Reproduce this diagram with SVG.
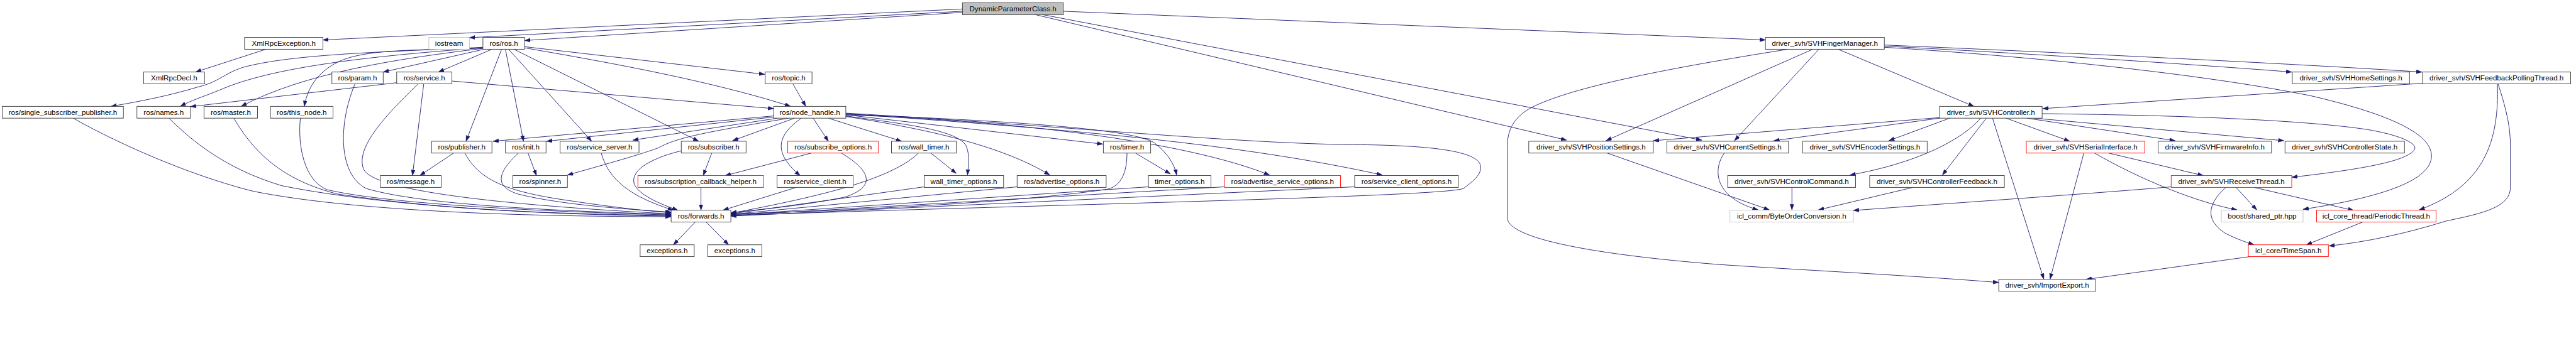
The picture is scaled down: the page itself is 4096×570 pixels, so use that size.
<svg xmlns="http://www.w3.org/2000/svg" width="4096" height="570" viewBox="0 0 4096 570">
<style>
.node rect{fill:#ffffff;stroke:#333333;stroke-width:1}
.node.red rect{stroke:#ff0000}
.node.grey rect{stroke:#bfbfbf}
.node.root rect{fill:#bfbfbf}
.node text{font-family:"Liberation Sans",Arial,Helvetica,sans-serif;font-size:13px;fill:#000;text-anchor:middle}
#edges path{fill:none;stroke:#191970;stroke-width:1;marker-end:url(#arr)}
</style>
<defs>
<marker id="arr" markerUnits="userSpaceOnUse" markerWidth="11" markerHeight="8" refX="10" refY="3.5" orient="auto">
<path d="M0,0 L10,3.5 L0,7 z" fill="#191970" stroke="#191970" stroke-width="0.5"/>
</marker>
</defs>
<rect width="4096" height="570" fill="#ffffff"/>
<g transform="scale(0.896)">
<g id="edges">
<!-- DynamicParameterClass.h -->
<path d="M1708,16 L573,71"/>
<path d="M1708,20 L833,67"/>
<path d="M1708,22 L931,72"/>
<path d="M1887,20 L3133,71"/>
<path d="M1837,26 L2780,249"/>
<path d="M1850,26 L3020,249"/>
<!-- XmlRpcException -->
<path d="M472,87.5 L347,128"/>
<!-- ros/ros.h -->
<path d="M857,84 C700,92 520,95 430,120 C395,132 390,145 350,155 C300,170 250,180 197,189"/>
<path d="M857,85 C650,100 480,120 390,160 C360,172 340,178 320,189"/>
<path d="M857,86 C700,105 540,130 428,189"/>
<path d="M857,85 C760,90 650,85 600,110 C560,130 545,160 540,189"/>
<path d="M857,88 L680,128"/>
<path d="M872,88 L778,128"/>
<path d="M890,88 L827,251"/>
<path d="M897,88 L929,251"/>
<path d="M903,88 L1050,251"/>
<path d="M913,88 L1240,251"/>
<path d="M931,83 L1357,132"/>
<path d="M931,85 C1050,106 1250,140 1403,189"/>
<!-- ros/service.h -->
<path d="M704,147 L338,189.5"/>
<path d="M802,144 L1373,193"/>
<path d="M752,149 L732,312"/>
<path d="M742,149 C690,200 630,260 645,300 C660,340 900,365 1191,380"/>
<!-- others to forwards -->
<path d="M630,149 C600,220 600,310 650,335 C750,365 1000,375 1191,381"/>
<path d="M533,210 C528,260 540,320 580,337 C700,365 1000,377 1191,382"/>
<path d="M415,210 C450,270 500,320 600,345 C800,375 1000,380 1191,383"/>
<path d="M300,210 C340,250 400,300 500,330 C700,370 1000,382 1191,384"/>
<path d="M130,210 C200,250 330,310 450,340 C650,380 1000,385 1191,385"/>
<path d="M805,272 L745,312"/>
<path d="M825,272 C850,320 900,340 1000,355 C1100,370 1150,375 1191,378"/>
<path d="M937,272 L952,312"/>
<path d="M920,272 C890,300 870,330 920,345 C1000,365 1120,372 1191,377"/>
<path d="M1067,272 C1080,320 1120,350 1195,373.5"/>
<path d="M1209,268 C1160,280 1120,300 1125,325 C1130,345 1170,362 1203,373.5"/>
<path d="M1263,272 L1248,312"/>
<path d="M1440,272 L1287,312"/>
<path d="M1493,272 C1540,300 1560,330 1500,350 C1430,365 1350,372 1297,378"/>
<path d="M1244,333 L1244,373.5"/>
<path d="M1413,333 L1283,373.5"/>
<path d="M1234,394.5 L1195,435"/>
<path d="M1253,394.5 L1293,435"/>
<!-- topic -->
<path d="M1407,149 L1430,189"/>
<!-- node_handle -->
<path d="M1373,206 L875,251"/>
<path d="M1373,208 L970,251"/>
<path d="M1380,210 L1123,249"/>
<path d="M1400,210 C1250,235 1200,245 1170,262 C1150,270 1100,285 1007,311"/>
<path d="M1410,210 L1300,250"/>
<path d="M1443,210 L1470,251"/>
<path d="M1422,210 C1380,240 1370,270 1420,312"/>
<path d="M1470,210 L1600,251"/>
<path d="M1501,206 C1600,220 1700,230 1715,260 C1722,280 1718,295 1717,311"/>
<path d="M1501,207 C1650,230 1780,260 1863,311"/>
<path d="M1501,204 L1957,256"/>
<path d="M1501,203 C1800,215 2020,230 2050,255 C2075,275 2085,295 2088,311"/>
<path d="M1501,204 C1800,215 2100,250 2253,311"/>
<path d="M1501,202 C1900,230 2200,255 2453,311"/>
<path d="M1501,201 C1900,225 2200,255 2400,257 C2550,258 2620,270 2627,293 C2632,310 2610,325 2597,335 C2560,350 1800,365 1297,383"/>
<!-- timers -->
<path d="M1652,272 L1697,308"/>
<path d="M1630,272 C1580,320 1450,350 1297,379"/>
<path d="M2015,272 L2077,309"/>
<path d="M2000,272 C2000,320 1980,335 1960,337 C1800,360 1500,375 1297,380"/>
<path d="M1640,332 L1297,380"/>
<path d="M1805,332 L1297,381"/>
<path d="M2038,332 L1297,382"/>
<path d="M2173,332 L1297,383"/>
<path d="M2404,332 L1297,384"/>
<!-- SVHFingerManager -->
<path d="M3173,87.5 C3000,115 2800,150 2720,190 C2680,210 2675,240 2675,260 L2675,387 C2675,420 2800,450 3050,470 C3200,480 3400,490 3547,502"/>
<path d="M3217,87.5 L2850,250"/>
<path d="M3228,87.5 L3078,250"/>
<path d="M3262,87.5 L3503,189"/>
<path d="M3344,82 C3600,95 3900,115 4067,128"/>
<path d="M3344,80 C3700,95 4100,115 4298,128"/>
<path d="M3344,84 C3600,100 3900,130 4100,170 C4250,205 4315,240 4315,277 C4315,320 4230,350 4087,372"/>
<!-- FeedbackPollingThread -->
<path d="M4299,148 L3625,193"/>
<path d="M4432,149 C4435,250 4410,330 4293,373"/>
<path d="M4433,149 C4450,200 4455,230 4455,260 L4455,333 C4455,370 4400,380 4340,393 C4270,415 4200,430 4133,437"/>
<!-- SVHController -->
<path d="M3442,209 L2934,250"/>
<path d="M3442,210 L3148,250"/>
<path d="M3460,210 L3352,250"/>
<path d="M3515,210 C3480,250 3400,290 3283,311"/>
<path d="M3525,210 L3447,311"/>
<path d="M3536,210 L3627,496"/>
<path d="M3560,210 L3673,251"/>
<path d="M3597,210 L3860,250"/>
<path d="M3610,210 L4053,250"/>
<path d="M3624,202 C3900,205 4100,215 4200,230 C4260,240 4290,255 4285,265 C4275,285 4200,300 4067,315"/>
<!-- SerialInterface -->
<path d="M3698,272 L3638,496"/>
<path d="M3742,272 L3910,312"/>
<path d="M3717,272 C3800,320 3900,360 3970,373"/>
<!-- ReceiveThread -->
<path d="M3853,332 C3700,345 3450,362 3289,374"/>
<path d="M3968,333 L4005,373"/>
<path d="M4000,333 L4177,374"/>
<path d="M3950,333 C3920,360 3910,390 3950,415 C3970,425 3985,430 4000,435"/>
<path d="M4193,394.5 L4093,435"/>
<path d="M3993,456 L3702,496.5"/>
<!-- to ByteOrderConversion -->
<path d="M2852,272 L3140,373"/>
<path d="M3060,272 C3040,300 3040,350 3120,373"/>
<path d="M3180,333 L3180,373"/>
<path d="M3395,333 L3227,373"/>
</g>

<g id="n_dpc" class="node root"><rect x="1708" y="5" width="179" height="21"/><text x="1797.5" y="20">DynamicParameterClass.h</text></g>
<g id="n_xmlrpcexception" class="node"><rect x="434" y="66.5" width="139" height="21"/><text x="503.5" y="81.5">XmlRpcException.h</text></g>
<g id="n_iostream" class="node grey"><rect x="761" y="66.5" width="72" height="21"/><text x="797" y="81.5">iostream</text></g>
<g id="n_ros" class="node"><rect x="857" y="66.5" width="74" height="21"/><text x="894" y="81.5">ros/ros.h</text></g>
<g id="n_fingermanager" class="node"><rect x="3133" y="66.5" width="211" height="21"/><text x="3238.5" y="81.5">driver_svh/SVHFingerManager.h</text></g>
<g id="n_xmlrpcdecl" class="node"><rect x="255" y="128" width="108" height="21"/><text x="309" y="143">XmlRpcDecl.h</text></g>
<g id="n_param" class="node"><rect x="589" y="128" width="91" height="21"/><text x="634.5" y="143">ros/param.h</text></g>
<g id="n_service" class="node"><rect x="704" y="128" width="98" height="21"/><text x="753" y="143">ros/service.h</text></g>
<g id="n_topic" class="node"><rect x="1358" y="128" width="83" height="21"/><text x="1399.5" y="143">ros/topic.h</text></g>
<g id="n_homesettings" class="node"><rect x="4068" y="128" width="208" height="21"/><text x="4172" y="143">driver_svh/SVHHomeSettings.h</text></g>
<g id="n_feedbackpolling" class="node"><rect x="4299" y="128" width="263" height="21"/><text x="4430.5" y="143">driver_svh/SVHFeedbackPollingThread.h</text></g>
<g id="n_ssp" class="node"><rect x="4" y="189" width="215" height="21"/><text x="111.5" y="204">ros/single_subscriber_publisher.h</text></g>
<g id="n_names" class="node"><rect x="243" y="189" width="95" height="21"/><text x="290.5" y="204">ros/names.h</text></g>
<g id="n_master" class="node"><rect x="362" y="189" width="95" height="21"/><text x="409.5" y="204">ros/master.h</text></g>
<g id="n_thisnode" class="node"><rect x="480" y="189" width="111" height="21"/><text x="535.5" y="204">ros/this_node.h</text></g>
<g id="n_nodehandle" class="node"><rect x="1373" y="189" width="128" height="21"/><text x="1437" y="204">ros/node_handle.h</text></g>
<g id="n_controller" class="node"><rect x="3442" y="189" width="182" height="21"/><text x="3533" y="204">driver_svh/SVHController.h</text></g>
<g id="n_publisher" class="node"><rect x="766" y="251" width="107" height="21"/><text x="819.5" y="266">ros/publisher.h</text></g>
<g id="n_init" class="node"><rect x="897" y="251" width="72" height="21"/><text x="933" y="266">ros/init.h</text></g>
<g id="n_serviceserver" class="node"><rect x="994" y="251" width="140" height="21"/><text x="1064" y="266">ros/service_server.h</text></g>
<g id="n_subscriber" class="node"><rect x="1209" y="251" width="115" height="21"/><text x="1266.5" y="266">ros/subscriber.h</text></g>
<g id="n_subscribeoptions" class="node red"><rect x="1398" y="251" width="161" height="21"/><text x="1478.5" y="266">ros/subscribe_options.h</text></g>
<g id="n_walltimer" class="node"><rect x="1582" y="251" width="115" height="21"/><text x="1639.5" y="266">ros/wall_timer.h</text></g>
<g id="n_timer" class="node"><rect x="1958" y="251" width="84" height="21"/><text x="2000" y="266">ros/timer.h</text></g>
<g id="n_positionsettings" class="node"><rect x="2713" y="251" width="221" height="21"/><text x="2823.5" y="266">driver_svh/SVHPositionSettings.h</text></g>
<g id="n_currentsettings" class="node"><rect x="2958" y="251" width="216" height="21"/><text x="3066" y="266">driver_svh/SVHCurrentSettings.h</text></g>
<g id="n_encodersettings" class="node"><rect x="3199" y="251" width="221" height="21"/><text x="3309.5" y="266">driver_svh/SVHEncoderSettings.h</text></g>
<g id="n_serialinterface" class="node red"><rect x="3596" y="251" width="210" height="21"/><text x="3701" y="266">driver_svh/SVHSerialInterface.h</text></g>
<g id="n_firmwareinfo" class="node"><rect x="3830" y="251" width="201" height="21"/><text x="3930.5" y="266">driver_svh/SVHFirmwareInfo.h</text></g>
<g id="n_controllerstate" class="node"><rect x="4055" y="251" width="212" height="21"/><text x="4161" y="266">driver_svh/SVHControllerState.h</text></g>
<g id="n_message" class="node"><rect x="675" y="312" width="108" height="21"/><text x="729" y="327">ros/message.h</text></g>
<g id="n_spinner" class="node"><rect x="910" y="312" width="97" height="21"/><text x="958.5" y="327">ros/spinner.h</text></g>
<g id="n_scbhelper" class="node red"><rect x="1132" y="312" width="223" height="21"/><text x="1243.5" y="327">ros/subscription_callback_helper.h</text></g>
<g id="n_serviceclient" class="node"><rect x="1379" y="312" width="135" height="21"/><text x="1446.5" y="327">ros/service_client.h</text></g>
<g id="n_walltimeroptions" class="node"><rect x="1640" y="312" width="141" height="21"/><text x="1710.5" y="327">wall_timer_options.h</text></g>
<g id="n_advertiseoptions" class="node"><rect x="1805" y="312" width="158" height="21"/><text x="1884" y="327">ros/advertise_options.h</text></g>
<g id="n_timeroptions" class="node"><rect x="2038" y="312" width="111" height="21"/><text x="2093.5" y="327">timer_options.h</text></g>
<g id="n_advserviceoptions" class="node red"><rect x="2173" y="312" width="206" height="21"/><text x="2276" y="327">ros/advertise_service_options.h</text></g>
<g id="n_serviceclientoptions" class="node"><rect x="2404" y="312" width="184" height="21"/><text x="2496" y="327">ros/service_client_options.h</text></g>
<g id="n_controlcommand" class="node"><rect x="3066" y="312" width="227" height="21"/><text x="3179.5" y="327">driver_svh/SVHControlCommand.h</text></g>
<g id="n_controllerfeedback" class="node"><rect x="3318" y="312" width="239" height="21"/><text x="3437.5" y="327">driver_svh/SVHControllerFeedback.h</text></g>
<g id="n_receivethread" class="node red"><rect x="3853" y="312" width="214" height="21"/><text x="3960" y="327">driver_svh/SVHReceiveThread.h</text></g>
<g id="n_forwards" class="node"><rect x="1191" y="373.5" width="106" height="21"/><text x="1244" y="388.5">ros/forwards.h</text></g>
<g id="n_byteorder" class="node grey"><rect x="3070" y="373.5" width="219" height="21"/><text x="3179.5" y="388.5">icl_comm/ByteOrderConversion.h</text></g>
<g id="n_sharedptr" class="node grey"><rect x="3942" y="373.5" width="145" height="21"/><text x="4014.5" y="388.5">boost/shared_ptr.hpp</text></g>
<g id="n_periodicthread" class="node red"><rect x="4111" y="373.5" width="212" height="21"/><text x="4217" y="388.5">icl_core_thread/PeriodicThread.h</text></g>
<g id="n_exceptions1" class="node"><rect x="1136" y="435" width="96" height="21"/><text x="1184" y="450">exceptions.h</text></g>
<g id="n_exceptions2" class="node"><rect x="1256" y="435" width="96" height="21"/><text x="1304" y="450">exceptions.h</text></g>
<g id="n_timespan" class="node red"><rect x="3990" y="435" width="142" height="21"/><text x="4061" y="450">icl_core/TimeSpan.h</text></g>
<g id="n_importexport" class="node"><rect x="3547" y="496.5" width="172" height="21"/><text x="3633" y="511.5">driver_svh/ImportExport.h</text></g>
</g>
</svg>
